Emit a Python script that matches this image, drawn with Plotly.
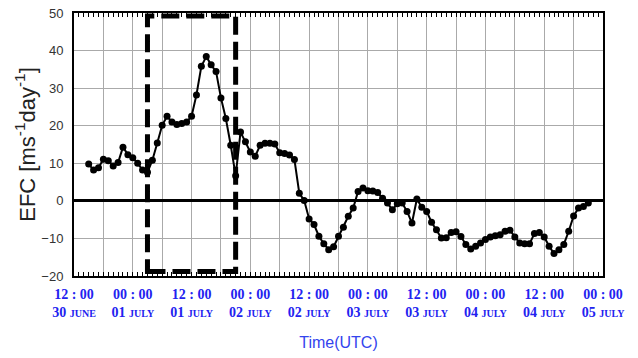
import pandas as pd
import plotly.graph_objects as go

# Hourly EFC series starting 30 June 15:00 UTC
start_time = "2021-06-30 15:00"
efc = [
    9.8, 8.2, 8.8, 11.1, 10.7, 9.3, 10.2, 14.3, 12.3, 11.5,
    10.0, 8.2, 7.6, 10.8, 15.4, 20.1, 22.5, 21.0, 20.3, 20.6,
    21.0, 22.5, 28.2, 35.8, 38.4, 36.2, 34.4, 27.4, 21.9, 14.8,
    6.7, 18.3, 15.7, 13.0, 11.9, 14.8, 15.3, 15.3, 15.1, 12.8,
    12.6, 12.2, 11.0, 2.0, 0.1, -4.8, -6.3, -9.4, -11.4, -13.0,
    -12.2, -9.4, -7.0, -4.1, -1.9, 2.5, 3.4, 2.7, 2.6, 2.2,
    0.7, -0.6, -2.4, -0.8, -0.6, -2.8, -5.9, 0.5, -1.7, -2.8,
    -5.7, -7.7, -9.9, -9.8, -8.4, -8.2, -9.5, -11.6, -12.8, -12.1,
    -11.2, -10.3, -9.6, -9.3, -9.0, -8.1, -7.8, -9.6, -11.2, -11.4,
    -11.4, -8.7, -8.4, -9.6, -12.1, -14.0, -13.0, -11.6, -8.1, -4.0,
    -1.9, -1.5, -0.6,
]
times = pd.date_range(start_time, periods=len(efc), freq="h")

# Axis window and labelled ticks
x_start = "2021-06-30 12:00"
x_end = "2021-07-05 00:00"
tick_clock = ["12 : 00", "00 : 00", "12 : 00", "00 : 00", "12 : 00",
              "00 : 00", "12 : 00", "00 : 00", "12 : 00", "00 : 00"]
tick_day = ["30", "01", "01", "02", "02", "03", "03", "04", "04", "05"]
tick_month = ["JUNE", "JULY", "JULY", "JULY", "JULY",
              "JULY", "JULY", "JULY", "JULY", "JULY"]

# Highlighted event window
box_start = "2021-07-01 03:00"
box_end = "2021-07-01 21:00"
box_low, box_high = -18.8, 49.2

label_times = list(pd.date_range(x_start, x_end, freq="12h"))
ticktext = [
    f"<b>{c}</b><br><b>{d} <span style='font-size:10px'>{m}</span></b>"
    for c, d, m in zip(tick_clock, tick_day, tick_month)
]

hour_ticks = dict(
    type="date", range=[x_start, x_end], overlaying="x",
    tickmode="linear", tick0=x_start, dtick=3600000,
    ticks="inside", ticklen=4, tickcolor="black", tickwidth=1,
    showticklabels=False, showgrid=False, showline=False, zeroline=False,
    automargin=False,
)

fig = go.Figure()
fig.add_trace(go.Scatter(
    x=times, y=efc, mode="lines+markers",
    line=dict(color="black", width=2),
    marker=dict(color="black", size=7),
    showlegend=False,
))
fig.add_trace(go.Scatter(x=[], y=[], xaxis="x2", showlegend=False, hoverinfo="skip"))
fig.add_trace(go.Scatter(x=[], y=[], xaxis="x3", showlegend=False, hoverinfo="skip"))

fig.add_shape(
    type="rect", xref="x", yref="y",
    x0=box_start, x1=box_end, y0=box_low, y1=box_high,
    line=dict(color="black", width=5, dash="18px,7px"),
    layer="above",
)

fig.update_layout(
    width=638, height=358,
    margin=dict(l=74, r=35, t=13, b=82),
    paper_bgcolor="white", plot_bgcolor="white",
    xaxis=dict(
        type="date", range=[x_start, x_end],
        tickmode="array", tickvals=label_times, ticktext=ticktext,
        tickfont=dict(family="Liberation Serif", size=14, color="#2222f0"),
        ticks="", ticklabelstandoff=4,
        showgrid=True, gridcolor="#aaaaaa", gridwidth=1,
        minor=dict(tickmode="linear", tick0=x_start, dtick=21600000,
                   ticks="", showgrid=True, gridcolor="#aaaaaa", gridwidth=1),
        showline=True, linecolor="black", linewidth=2, mirror=True,
        zeroline=False, automargin=False,
        title=dict(text="Time(UTC)", standoff=18,
                   font=dict(family="Liberation Sans", size=16, color="#3344ee")),
    ),
    xaxis2=dict(side="top", **hour_ticks),
    xaxis3=dict(side="bottom", **hour_ticks),
    yaxis=dict(
        range=[-20, 50], tickmode="linear", tick0=-20, dtick=10,
        tickfont=dict(family="Liberation Sans", size=13, color="#333333"),
        showgrid=True, gridcolor="#aaaaaa", gridwidth=1,
        zeroline=True, zerolinecolor="black", zerolinewidth=3,
        showline=True, linecolor="black", linewidth=2, mirror=True,
        ticks="", ticklabelstandoff=6, automargin=False,
        title=dict(text="EFC [ms<sup>-1</sup>day<sup>-1</sup>]", standoff=0,
                   font=dict(family="Liberation Sans", size=22, color="#222222")),
    ),
)

fig.write_html("out.html")
